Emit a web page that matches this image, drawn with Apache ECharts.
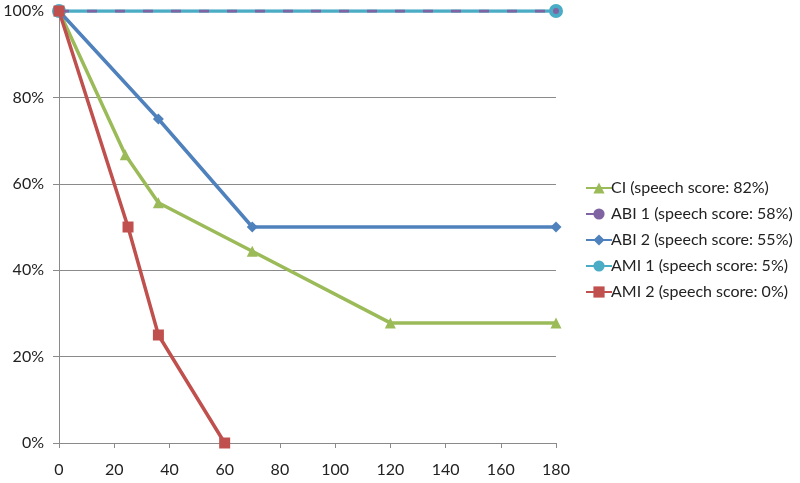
<!DOCTYPE html>
<html>
<head>
<meta charset="utf-8">
<script src="https://cdn.jsdelivr.net/npm/echarts@6/dist/echarts.min.js"></script>
<style>
  html, body { margin: 0; padding: 0; background: #fff; }
  #chart { width: 800px; height: 483px; }
</style>
</head>
<body>
<div id="chart"></div>
<script>
// x = time, y = percent
const xTicks = [0, 20, 40, 60, 80, 100, 120, 140, 160, 180];
const yTicks = [0, 20, 40, 60, 80, 100];

const ciData = [[0, 100], [24, 66.7], [36, 55.6], [70, 44.4], [120, 27.8], [180, 27.8]];
const abi1Data = [[0, 100], [180, 100]];
const abi2Data = [[0, 100], [36, 75], [70, 50], [180, 50]];
const ami1Data = [[0, 100], [180, 100]];
const ami2Data = [[0, 100], [25, 50], [36, 25], [60, 0]];

const names = [
  "CI (speech score: 82%)",
  "ABI 1 (speech score: 58%)",
  "ABI 2 (speech score: 55%)",
  "AMI 1 (speech score: 5%)",
  "AMI 2 (speech score: 0%)"
];

const chart = echarts.init(document.getElementById("chart"));
const font = "Lato, 'Open Sans', sans-serif";

const option = {
  animation: false,
  textStyle: { fontFamily: font },
  legend: {
    orient: "vertical",
    left: 580,
    top: 175,
    itemWidth: 26,
    itemHeight: 14,
    itemGap: 10,
    data: names,
    textStyle: { fontSize: 16, color: "#222", padding: [0, 0, 0, -6] }
  },
  grid: {
    left: 59,
    right: 244,
    top: 11,
    bottom: 40
  },
  xAxis: {
    type: "value",
    min: 0,
    max: 180,
    interval: 20,
    axisLine: { lineStyle: { color: "#8a8a8a", width: 1 } },
    axisTick: { show: true, length: 5, lineStyle: { color: "#8a8a8a" } },
    axisLabel: { color: "#222", fontSize: 16, margin: 19 },
    splitLine: { show: false }
  },
  yAxis: {
    type: "value",
    min: 0,
    max: 100,
    interval: 20,
    axisLine: { show: true, lineStyle: { color: "#8a8a8a", width: 1 } },
    axisTick: { show: true, length: 6, lineStyle: { color: "#8a8a8a" } },
    axisLabel: { color: "#222", fontSize: 16, margin: 15, formatter: "{value}%" },
    splitLine: { show: true, lineStyle: { color: "#8a8a8a", width: 1 } }
  },
  series: [
    {
      name: names[0],
      type: "line",
      data: ciData,
      color: "#9BBB59",
      symbol: "triangle",
      symbolSize: 11,
      lineStyle: { width: 3.5 },
      z: 2
    },
    {
      name: names[1],
      type: "line",
      data: abi1Data,
      color: "#8064A2",
      symbol: "circle",
      symbolSize: 6,
      lineStyle: { width: 3, type: [10, 18] },
      z: 5
    },
    {
      name: names[2],
      type: "line",
      data: abi2Data,
      color: "#4F81BD",
      symbol: "diamond",
      symbolSize: 11,
      lineStyle: { width: 3.5 },
      z: 3
    },
    {
      name: names[3],
      type: "line",
      data: ami1Data,
      color: "#4BACC6",
      symbol: "circle",
      symbolSize: 14,
      lineStyle: { width: 3.5 },
      z: 4
    },
    {
      name: names[4],
      type: "line",
      data: ami2Data,
      color: "#C0504D",
      symbol: "rect",
      symbolSize: 11,
      lineStyle: { width: 3.5 },
      z: 6
    }
  ]
};

chart.setOption(option);
</script>
</body>
</html>
